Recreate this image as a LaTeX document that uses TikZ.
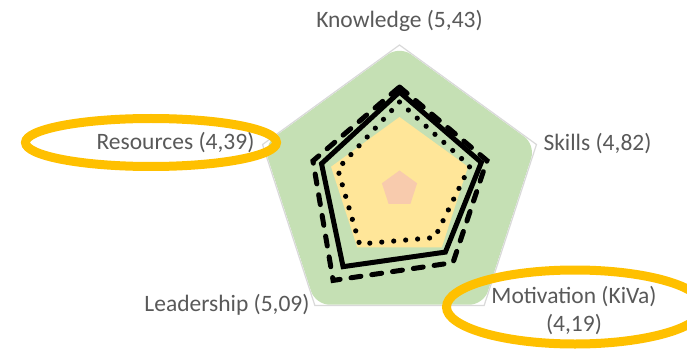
\documentclass[tikz,border=0pt]{standalone}
\usepackage{fontspec}
\setmainfont{Carlito}
\usetikzlibrary{calc}
\definecolor{axisgray}{HTML}{D9D9D9}
\definecolor{labelgray}{HTML}{595959}
\definecolor{ringgreen}{HTML}{C5E0B4}
\definecolor{ringyellow}{HTML}{FFE699}
\definecolor{ringpink}{HTML}{F8CBAD}
\definecolor{hiorange}{HTML}{FFC000}
\tikzset{
  lbl/.style={text=labelgray, font=\fontsize{23.5}{27.7}\selectfont, inner sep=0pt, anchor=base},
  series/.style={line width=5, line join=miter},
  seriessolid/.style={series},
  seriesdash/.style={series, line cap=round, dash pattern=on 10 off 11},
  seriesdot/.style={series, line width=5.2, line cap=round, dash pattern=on 0 off 12},
  highlight/.style={draw=hiorange, line width=9},
}
\begin{document}
\begin{tikzpicture}[x=1pt,y=1pt]
\useasboundingbox (0,0) rectangle (687,351);
\begin{scope}[shift={(399.5,162)}]
  % background rings
  \fill[ringgreen, rounded corners=14] (90:143) -- (18:143) -- (-54:143) -- (-126:143) -- (162:143) -- cycle;
  \draw[axisgray, line width=1.2] (90:144) -- (18:144) -- (-54:144) -- (-126:144) -- (162:144) -- cycle;
  \fill[ringyellow] (90:72) -- (18:72) -- (-54:72) -- (-126:72) -- (162:72) -- cycle;
  \fill[ringpink] (90:18.5) -- (18:18.5) -- (-54:18.5) -- (-126:18.5) -- (162:18.5) -- cycle;
  % series
  \draw[seriesdot] (90:87) -- (18:74) -- (-54:60) -- (-126:68) -- (162:65) -- cycle;
  \draw[seriessolid] (90:97) -- (18:86) -- (-54:78) -- (-126:96) -- (162:82) -- cycle;
  \draw[seriesdash] (90:102) -- (18:92) -- (-54:91) -- (-126:113) -- (162:91) -- cycle;
\end{scope}
% labels
\node[lbl] (know) at (399.5,323) {Knowledge (5,43)};
\node[lbl] (skill) at (597.5,200.3) {Skills (4,82)};
\node[lbl] (res) at (175.5,201) {Resources (4,39)};
\node[lbl] (lead) at (227,39.3) {Leadership (5,09)};
\node[lbl, align=center] (moti) at (574,20) {Motivation (KiVa)\\(4,19)};
% highlights
\draw[highlight] (151,208.5) ellipse [x radius=125.5, y radius=24];
\draw[highlight] (575,44) ellipse [x radius=128.5, y radius=37];
\end{tikzpicture}
\end{document}
